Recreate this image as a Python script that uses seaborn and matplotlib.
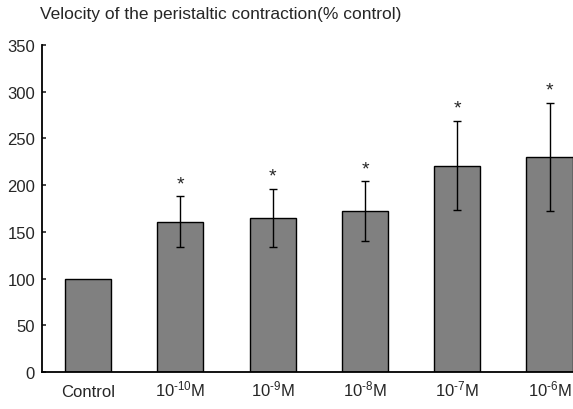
import pandas as pd
import numpy as np
import matplotlib
matplotlib.use('Agg')
import matplotlib.pyplot as plt
import seaborn as sns

# values
groups = ['Control', r'10$^{\text{-10}}$M', r'10$^{\text{-9}}$M', r'10$^{\text{-8}}$M',
          r'10$^{\text{-7}}$M', r'10$^{\text{-6}}$M']
velocity = [100, 161, 165, 172, 221, 230]
sem = [0, 27, 31, 32, 48, 58]
signif = [False, True, True, True, True, True]

sns.set_style('ticks')
plt.rcParams['font.family'] = ['Liberation Sans', 'DejaVu Sans']
plt.rcParams['mathtext.fontset'] = 'custom'
plt.rcParams['mathtext.rm'] = 'Liberation Sans'
plt.rcParams['mathtext.it'] = 'Liberation Sans:italic'

df = pd.DataFrame({'group': groups, 'velocity': velocity, 'sem': sem})

fig = plt.figure(figsize=(5.73, 4.10), dpi=100)
ax = fig.add_axes([0.0733, 0.0902, 0.926, 0.7976])

sns.barplot(data=df, x='group', y='velocity', color='#808080', saturation=1,
            width=0.5, edgecolor='black', linewidth=1.0, ax=ax)

x = np.arange(len(groups))
has_err = df['sem'] > 0
ax.errorbar(x[has_err], df['velocity'][has_err], yerr=df['sem'][has_err],
            fmt='none', ecolor='black', elinewidth=1.0, capsize=3, capthick=1.0)

for xi, v, e, s in zip(x, velocity, sem, signif):
    if s:
        ax.annotate('*', (xi, v + e), xytext=(0, 3), textcoords='offset points',
                    ha='center', va='bottom', fontsize=14)

ax.set_xlim(-0.5, 5.25)
ax.set_ylim(0, 350)
ax.set_yticks(range(0, 351, 50))
ax.set_xlabel('')
ax.set_ylabel('')
ax.tick_params(axis='y', direction='in', length=3, width=1.2, labelsize=12, pad=5)
ax.tick_params(axis='x', length=0, labelsize=12, pad=17)
for lab in ax.get_xticklabels():
    lab.set_verticalalignment('baseline')
sns.despine(ax=ax)
for sp in ['left', 'bottom']:
    ax.spines[sp].set_linewidth(1.3)
    ax.spines[sp].set_color('black')

fig.text(0.07, 0.965, 'Velocity of the peristaltic contraction(% control)',
         fontsize=12.5, ha='left', va='center')

fig.savefig('out.png', dpi=100)
